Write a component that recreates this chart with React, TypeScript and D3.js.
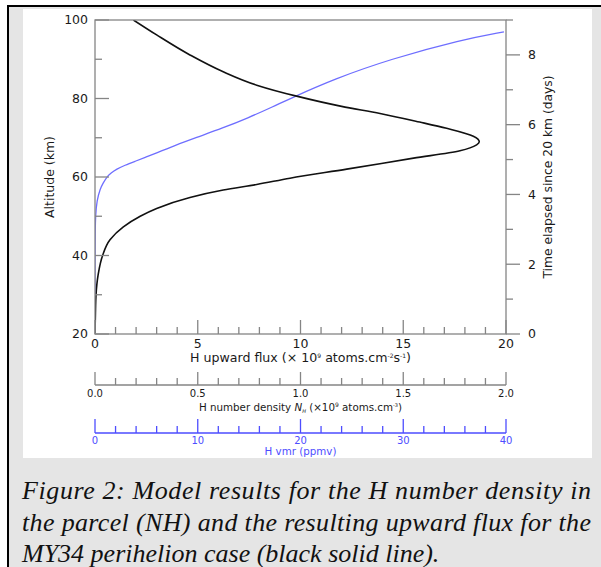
import React from 'react';
import * as d3 from 'd3';

// Black curve: H upward flux (x 10^9 atoms cm^-2 s^-1) vs altitude (km)
const FLUX_ALT = [20, 25, 30, 35, 40, 44, 47.3, 50, 52, 54.8, 56.7, 58.1, 59.7, 62, 64.8, 66.7, 68.2, 69, 70.4, 72.4, 74, 76.2, 78, 80.6, 83.4, 86.8, 91.1, 96.2, 100];
const FLUX = [0, 0.02, 0.05, 0.15, 0.37, 0.73, 1.38, 2.2, 3.0, 4.62, 6.24, 7.87, 9.49, 12.25, 15.5, 17.76, 18.57, 18.7, 18.41, 17.11, 15.8, 13.87, 12.0, 9.81, 7.87, 6.24, 4.62, 3.0, 1.87];

// Blue curve: H vmr (ppmv) vs altitude (km)
const VMR_ALT = [20, 35, 42, 46, 50, 54, 57, 58.5, 60, 61, 62, 63, 64, 65, 66, 68, 70, 72.5, 75, 78, 80, 85, 90, 95, 97];
const VMR = [0, 0, 0.01, 0.02, 0.05, 0.18, 0.5, 0.8, 1.15, 1.55, 2.1, 2.9, 3.9, 4.9, 5.85, 7.75, 9.8, 12.45, 14.85, 17.4, 19.0, 23.3, 28.7, 35.7, 39.8];

const ALT_TICKS = [20, 40, 60, 80, 100];
const ALT_MINOR = [30, 50, 70, 90];
const FLUX_TICKS = [0, 5, 10, 15, 20];
const TIME_TICKS = [0, 2, 4, 6, 8];
const TIME_MINOR = [1, 3, 5, 7, 9];
const DENS_TICKS = [0, 0.5, 1.0, 1.5, 2.0];
const VMR_TICKS = [0, 10, 20, 30, 40];

const CAPTION = [
  'Figure 2: Model results for the H number density in',
  'the parcel (NH) and the resulting upward flux for the',
  'MY34 perihelion case (black solid line).',
];

const L = 95, R = 506, T = 20, B = 334;
const AX = '#858585';
const TXT = '#1a1a1a';
const BLUE_LINE = '#6e6eff';
const BLUE_AX = '#4d4dff';
const FONT = 'DejaVu Sans, sans-serif';

export default function App() {
  const x = d3.scaleLinear().domain([0, 20]).range([L, R]);
  const y = d3.scaleLinear().domain([20, 100]).range([B, T]);
  const yT = d3.scaleLinear().domain([0, 9]).range([B, T]);
  const xD = d3.scaleLinear().domain([0, 2]).range([L, R]);
  const xV = d3.scaleLinear().domain([0, 40]).range([L, R]);

  const fluxPts = FLUX_ALT.map((a, i) => [x(FLUX[i]), y(a)] as [number, number]);
  const vmrPts = VMR_ALT.map((a, i) => [xV(VMR[i]), y(a)] as [number, number]);
  const fluxLine = d3.line().curve(d3.curveMonotoneY);
  const vmrLine = d3.line().curve(d3.curveBasis);

  const fluxMinor = d3.range(0, 21).filter((v) => v % 5 !== 0);
  const densMinor = d3.range(0, 21).filter((v) => v % 5 !== 0).map((v) => v / 10);
  const vmrMinor = d3.range(0, 41, 2).filter((v) => v % 10 !== 0);

  const densY = 385;
  const vmrY = 433;

  return (
    <div style={{ position: 'absolute', left: 0, top: 0 }}>
      <svg width={601} height={567} style={{ display: 'block' }}>
        <rect x={0} y={0} width={601} height={567} fill="#fff" />
        <rect x={8} y={6} width={593} height={561} fill="#e5e5e5" />
        <line x1={7} y1={6} x2={601} y2={6} stroke="#000" strokeWidth={2} />
        <line x1={8} y1={5} x2={8} y2={567} stroke="#000" strokeWidth={2} />
        <rect x={23} y={9} width={569} height={449} fill="#fff" />

        <defs>
          <clipPath id="plotclip">
            <rect x={L} y={T} width={R - L} height={B - T} />
          </clipPath>
        </defs>

        {/* curves */}
        <g clipPath="url(#plotclip)">
          <path d={vmrLine(vmrPts) || ''} fill="none" stroke={BLUE_LINE} strokeWidth={1.3} />
          <path d={fluxLine(fluxPts) || ''} fill="none" stroke="#111" strokeWidth={1.6} />
        </g>

        {/* frame */}
        <rect x={L} y={T} width={R - L} height={B - T} fill="none" stroke={AX} strokeWidth={1.3} />

        {/* left axis */}
        {ALT_TICKS.map((v) => (
          <g key={'a' + v}>
            <line x1={L} x2={L + 14} y1={y(v)} y2={y(v)} stroke={AX} strokeWidth={1.3} />
            <text x={88} y={y(v)} dy="0.35em" textAnchor="end" fontFamily={FONT} fontSize={12.5} fill={TXT}>{v}</text>
          </g>
        ))}
        {ALT_MINOR.map((v) => (
          <line key={'am' + v} x1={L} x2={L + 7} y1={y(v)} y2={y(v)} stroke={AX} strokeWidth={1.3} />
        ))}
        <text transform={`translate(54,${(T + B) / 2}) rotate(-90)`} textAnchor="middle" fontFamily={FONT} fontSize={12.5} fill={TXT}>Altitude (km)</text>

        {/* right axis */}
        {TIME_TICKS.map((v) => (
          <g key={'t' + v}>
            <line x1={R} x2={R + 14} y1={yT(v)} y2={yT(v)} stroke={AX} strokeWidth={1.3} />
            <text x={528} y={yT(v)} dy="0.35em" textAnchor="start" fontFamily={FONT} fontSize={12.5} fill={TXT}>{v}</text>
          </g>
        ))}
        {TIME_MINOR.map((v) => (
          <line key={'tm' + v} x1={R} x2={R + 7} y1={yT(v)} y2={yT(v)} stroke={AX} strokeWidth={1.3} />
        ))}
        <text transform={`translate(552,${(T + B) / 2}) rotate(-90)`} textAnchor="middle" fontFamily={FONT} fontSize={12.3} fill={TXT}>Time elapsed since 20 km (days)</text>

        {/* bottom flux axis */}
        {FLUX_TICKS.map((v) => (
          <g key={'f' + v}>
            <line x1={x(v)} x2={x(v)} y1={B} y2={B - 14} stroke={AX} strokeWidth={1.3} />
            <text x={x(v)} y={348} textAnchor="middle" fontFamily={FONT} fontSize={12.5} fill={TXT}>{v}</text>
          </g>
        ))}
        {fluxMinor.map((v) => (
          <line key={'fm' + v} x1={x(v)} x2={x(v)} y1={B} y2={B - 7} stroke={AX} strokeWidth={1.3} />
        ))}
        <text x={(L + R) / 2} y={362} textAnchor="middle" fontFamily={FONT} fontSize={12.6} fill={TXT}>
          H upward flux (× 10<tspan fontSize={6} dy={-4}>9</tspan><tspan dy={4}> atoms.cm</tspan><tspan fontSize={6} dy={-4}>-2</tspan><tspan dy={4}>s</tspan><tspan fontSize={6} dy={-4}>-1</tspan><tspan dy={4}>)</tspan>
        </text>

        {/* density axis */}
        <line x1={L} x2={R} y1={densY} y2={densY} stroke={AX} strokeWidth={1.3} />
        {DENS_TICKS.map((v) => (
          <g key={'d' + v}>
            <line x1={xD(v)} x2={xD(v)} y1={densY} y2={densY - 13} stroke={AX} strokeWidth={1.3} />
            <text x={xD(v)} y={397} textAnchor="middle" fontFamily={FONT} fontSize={10} fill={TXT}>{v.toFixed(1)}</text>
          </g>
        ))}
        {densMinor.map((v) => (
          <line key={'dm' + v} x1={xD(v)} x2={xD(v)} y1={densY} y2={densY - 7} stroke={AX} strokeWidth={1.3} />
        ))}
        <text x={(L + R) / 2} y={411} textAnchor="middle" fontFamily={FONT} fontSize={10.3} fill={TXT}>
          H number density <tspan fontStyle="italic">N</tspan><tspan fontSize={5} dy={2} fontStyle="italic">H</tspan><tspan dy={-2}> (×10</tspan><tspan fontSize={6} dy={-4}>9</tspan><tspan dy={4}> atoms.cm</tspan><tspan fontSize={5} dy={-4}>-3</tspan><tspan dy={4}>)</tspan>
        </text>

        {/* vmr axis */}
        <line x1={L} x2={R} y1={vmrY} y2={vmrY} stroke={BLUE_AX} strokeWidth={1.3} />
        {VMR_TICKS.map((v) => (
          <g key={'v' + v}>
            <line x1={xV(v)} x2={xV(v)} y1={vmrY} y2={vmrY - 14} stroke={BLUE_AX} strokeWidth={1.3} />
            <text x={xV(v)} y={444} textAnchor="middle" fontFamily={FONT} fontSize={10} fill={BLUE_AX}>{v}</text>
          </g>
        ))}
        {vmrMinor.map((v) => (
          <line key={'vm' + v} x1={xV(v)} x2={xV(v)} y1={vmrY} y2={vmrY - 7} stroke={BLUE_AX} strokeWidth={1.3} />
        ))}
        <text x={(L + R) / 2} y={455} textAnchor="middle" fontFamily={FONT} fontSize={10.3} fill={BLUE_AX}>H vmr (ppmv)</text>

        {/* caption */}
        {CAPTION.map((s, i) => (
          <text key={'c' + i} x={22} y={499 + i * 31.5} fontFamily="Liberation Serif, Times New Roman, serif" fontStyle="italic" fontSize={26} fill="#111"
            {...(i < 2 ? { textLength: 569, lengthAdjust: 'spacing' } : {})}>{s}</text>
        ))}
      </svg>
    </div>
  );
}
